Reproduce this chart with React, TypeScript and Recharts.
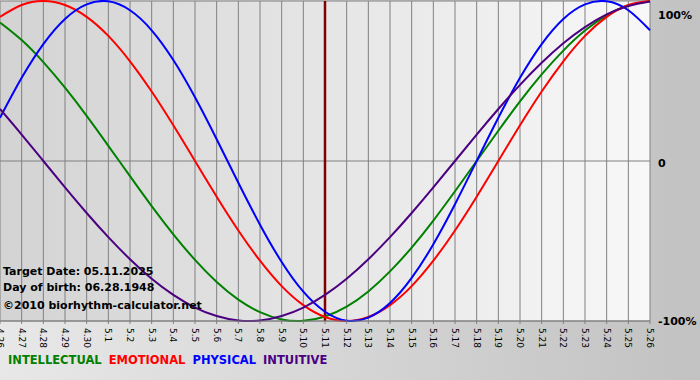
import React from 'react';
import {
  LineChart,
  Line,
  XAxis,
  YAxis,
  CartesianGrid,
  ReferenceLine,
} from 'recharts';

// days shown on the chart, 4.26 .. 5.26
const days = [
  '4.26', '4.27', '4.28', '4.29', '4.30',
  '5.1', '5.2', '5.3', '5.4', '5.5', '5.6', '5.7', '5.8', '5.9', '5.10',
  '5.11', '5.12', '5.13', '5.14', '5.15', '5.16', '5.17', '5.18', '5.19', '5.20',
  '5.21', '5.22', '5.23', '5.24', '5.25', '5.26',
];

// values in percent
const intellectual = [86.6, 75.6, 61.8, 45.8, 28.2, 9.5, -9.5, -28.2, -45.8, -61.8, -75.6, -86.6, -94.5, -99.0, -99.9, -97.2, -91.0, -81.5, -69.0, -54.1, -37.2, -18.9, 0, 18.9, 37.2, 54.1, 69.0, 81.5, 91.0, 97.2, 99.9];
const emotional = [90.1, 97.5, 100, 97.5, 90.1, 78.2, 62.3, 43.4, 22.3, 0, -22.3, -43.4, -62.3, -78.2, -90.1, -97.5, -100, -97.5, -90.1, -78.2, -62.3, -43.4, -22.3, 0, 22.3, 43.4, 62.3, 78.2, 90.1, 97.5, 100];
const physical = [27.0, 52.0, 73.1, 88.8, 97.9, 99.8, 94.2, 81.7, 63.1, 39.8, 13.6, -13.6, -39.8, -63.1, -81.7, -94.2, -99.8, -97.9, -88.8, -73.1, -52.0, -27.0, 0, 27.0, 52.0, 73.1, 88.8, 97.9, 99.8, 94.2, 81.7];
const intuitive = [32.5, 16.5, 0, -16.5, -32.5, -47.6, -61.4, -73.6, -83.7, -91.6, -96.9, -99.7, -99.7, -96.9, -91.6, -83.7, -73.6, -61.4, -47.6, -32.5, -16.5, 0, 16.5, 32.5, 47.6, 61.4, 73.6, 83.7, 91.6, 96.9, 99.7];

const yTicks = [-100, 0, 100];
const yLabels: Record<number, string> = { 100: '100%', 0: '0', '-100': '-100%' };

const targetDay = '5.11';
const infoLines = ['Target Date: 05.11.2025', 'Day of birth: 06.28.1948', '©2010 biorhythm-calculator.net'];

const SERIES = [
  { key: 'intellectual', name: 'INTELLECTUAL', color: '#008000' },
  { key: 'emotional', name: 'EMOTIONAL', color: '#ff0000' },
  { key: 'physical', name: 'PHYSICAL', color: '#0000ff' },
  { key: 'intuitive', name: 'INTUITIVE', color: '#4b0082' },
];

const data = days.map((day, i) => ({
  day,
  intellectual: intellectual[i],
  emotional: emotional[i],
  physical: physical[i],
  intuitive: intuitive[i],
}));

const FONT = '"DejaVu Sans", Verdana, sans-serif';

const XTick = (props: any) => {
  const { x, y, payload } = props;
  return (
    <text
      transform={`translate(${x},${y + 2}) rotate(90)`}
      textAnchor="start"
      dominantBaseline="central"
      fontSize={9}
      fontFamily={FONT}
      fill="#000"
    >
      {payload.value}
    </text>
  );
};

const YTick = (props: any) => {
  const { x, y, payload } = props;
  const shift = payload.value === 100 ? 6 : payload.value === 0 ? 2 : 0;
  return (
    <text
      x={x}
      y={y + shift}
      textAnchor="start"
      dominantBaseline="central"
      fontSize={11}
      fontWeight="bold"
      fontFamily={FONT}
      fill="#000"
    >
      {yLabels[payload.value]}
    </text>
  );
};

export default function App() {
  return (
    <div
      style={{
        position: 'absolute',
        left: 0,
        top: 0,
        width: 700,
        height: 380,
        background: 'linear-gradient(to right, #e8e8e8, #c2c2c2)',
      }}
    >
      <LineChart width={700} height={380} data={data} margin={{ top: 1, right: 0, bottom: 0, left: 0 }}>
        <defs>
          <linearGradient id="plotBg" x1="0" y1="0" x2="1" y2="0">
            <stop offset="0%" stopColor="#d3d3d3" />
            <stop offset="100%" stopColor="#f8f8f8" />
          </linearGradient>
        </defs>
        <CartesianGrid stroke="#808080" fill="url(#plotBg)" fillOpacity={1} />
        <XAxis
          dataKey="day"
          interval={0}
          height={59}
          tick={<XTick />}
          tickLine={{ stroke: '#808080' }}
          tickSize={3}
          axisLine={{ stroke: '#808080' }}
        />
        <YAxis
          orientation="right"
          width={50}
          domain={[-100, 100]}
          ticks={yTicks}
          tick={<YTick />}
          tickLine={false}
          axisLine={false}
        />
        <ReferenceLine x={targetDay} stroke="#800000" strokeWidth={2.5} />
        {SERIES.map((s) => (
          <Line
            key={s.key}
            type="natural"
            dataKey={s.key}
            stroke={s.color}
            strokeWidth={2}
            dot={false}
            isAnimationActive={false}
          />
        ))}
      </LineChart>
      {infoLines.map((t, i) => (
        <div
          key={t}
          style={{
            position: 'absolute',
            left: 3,
            top: [265, 281, 299][i],
            fontFamily: FONT,
            fontSize: 11,
            fontWeight: 'bold',
            color: '#000',
            whiteSpace: 'nowrap',
          }}
        >
          {t}
        </div>
      ))}
      <div
        style={{
          position: 'absolute',
          left: 8,
          top: 353,
          fontFamily: FONT,
          fontSize: 11.5,
          fontWeight: 'bold',
          whiteSpace: 'nowrap',
        }}
      >
        {SERIES.map((s) => (
          <span key={s.key} style={{ color: s.color, marginRight: 7 }}>
            {s.name}
          </span>
        ))}
      </div>
    </div>
  );
}
